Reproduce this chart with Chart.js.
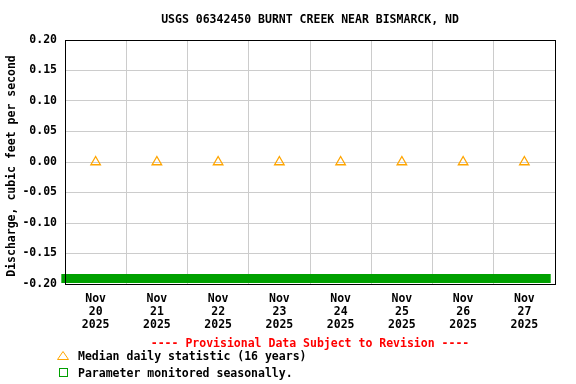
<!DOCTYPE html>
<html><head><meta charset="utf-8">
<script src="https://cdn.jsdelivr.net/npm/chart.js@4"></script>
<style>html,body{margin:0;padding:0;background:#fff}canvas{display:block}</style>
</head><body>
<canvas id="c" width="576" height="384"></canvas>
<script>
const titleText = 'USGS 06342450 BURNT CREEK NEAR BISMARCK, ND';
const yAxisTitle = 'Discharge, cubic feet per second';
const days = [20, 21, 22, 23, 24, 25, 26, 27];
const month = 'Nov';
const year = '2025';
const medianX = [20.5, 21.5, 22.5, 23.5, 24.5, 25.5, 26.5, 27.5];
const medianY = [0, 0, 0, 0, 0, 0, 0, 0];
const seasonalX = [19.94, 27.93];
const seasonalY = [-0.191, -0.191];
const yTicks = [-0.20, -0.15, -0.10, -0.05, 0.00, 0.05, 0.10, 0.15, 0.20];
const provisionalText = '---- Provisional Data Subject to Revision ----';
const legendMedian = 'Median daily statistic (16 years)';
const legendSeasonal = 'Parameter monitored seasonally.';

const FONT = 'bold 11.5px "DejaVu Sans Mono"';
Chart.defaults.font.family = '"DejaVu Sans Mono"';
Chart.defaults.font.size = 11.5;
Chart.defaults.font.weight = 'bold';
Chart.defaults.color = '#000';

const deco = {
  id: 'deco',
  afterDraw(chart) {
    const {ctx, chartArea: a} = chart;
    ctx.save();
    ctx.strokeStyle = '#000';
    ctx.lineWidth = 1;
    ctx.strokeRect(Math.round(a.left) + 0.5, Math.round(a.top) + 0.5,
                   Math.round(a.right - a.left), Math.round(a.bottom - a.top));
    ctx.font = FONT;
    ctx.fillStyle = '#000';
    ctx.textAlign = 'center';
    ctx.textBaseline = 'middle';
    ctx.fillText(titleText, (a.left + a.right) / 2, 20.5);
    ctx.save();
    ctx.translate(12, (a.top + a.bottom) / 2 + 4);
    ctx.rotate(-Math.PI / 2);
    ctx.fillText(yAxisTitle, 0, 0);
    ctx.restore();
    ctx.fillStyle = '#ff0000';
    ctx.fillText(provisionalText, (a.left + a.right) / 2, 344);
    // legend
    ctx.textAlign = 'left';
    ctx.fillStyle = '#000';
    ctx.fillText(legendMedian, 78, 357);
    ctx.fillText(legendSeasonal, 78, 374);
    ctx.strokeStyle = '#ffa500';
    ctx.beginPath();
    ctx.moveTo(63, 351.5); ctx.lineTo(68.5, 359.5); ctx.lineTo(57.5, 359.5); ctx.closePath();
    ctx.stroke();
    ctx.strokeStyle = '#00a000';
    ctx.strokeRect(59.5, 368.5, 8, 8);
    ctx.restore();
  }
};

new Chart(document.getElementById('c'), {
  type: 'scatter',
  data: {
    datasets: [
      {
        type: 'line',
        data: seasonalX.map((x, i) => ({x, y: seasonalY[i]})),
        borderColor: '#00a000',
        borderWidth: 9,
        borderCapStyle: 'butt',
        pointRadius: 0,
        clip: false,
        order: 2
      },
      {
        data: medianX.map((x, i) => ({x, y: medianY[i]})),
        pointStyle: 'triangle',
        pointRadius: 5.5,
        borderColor: '#ffa500',
        backgroundColor: 'rgba(0,0,0,0)',
        borderWidth: 1.3,
        order: 1
      }
    ]
  },
  options: {
    responsive: false,
    animation: false,
    devicePixelRatio: 1,
    layout: {padding: {top: 40, right: 21, left: 0, bottom: 0}},
    plugins: {legend: {display: false}, tooltip: {enabled: false}},
    scales: {
      x: {
        type: 'linear',
        min: days[0],
        max: days[days.length - 1] + 1,
        afterBuildTicks(scale) {
          const t = [];
          for (let d = days[0]; d <= days[days.length - 1] + 1; d++) {
            t.push({value: d});
            if (d <= days[days.length - 1]) t.push({value: d + 0.5});
          }
          scale.ticks = t;
        },
        afterFit(scale) { scale.height = 100; },
        border: {display: false},
        grid: {
          drawTicks: false,
          color: (c) => (c.tick && Number.isInteger(c.tick.value)) ? '#cccccc' : 'rgba(0,0,0,0)',
          lineWidth: 1
        },
        ticks: {
          autoSkip: false,
          maxRotation: 0,
          padding: 9,
          font: {size: 11.5, weight: 'bold', lineHeight: 1.13},
          callback(v) {
            if (Number.isInteger(v)) return '';
            return [month, String(Math.floor(v)), year];
          }
        }
      },
      y: {
        min: yTicks[0],
        max: yTicks[yTicks.length - 1],
        afterBuildTicks(scale) { scale.ticks = yTicks.map(v => ({value: v})); },
        afterFit(scale) { scale.width = 65; },
        border: {display: false},
        grid: {drawTicks: false, color: '#cccccc', lineWidth: 1},
        ticks: {
          padding: 8,
          callback(v) { return (Math.abs(v) < 1e-9 ? 0 : v).toFixed(2); }
        }
      }
    }
  },
  plugins: [deco]
});
</script>
</body></html>
